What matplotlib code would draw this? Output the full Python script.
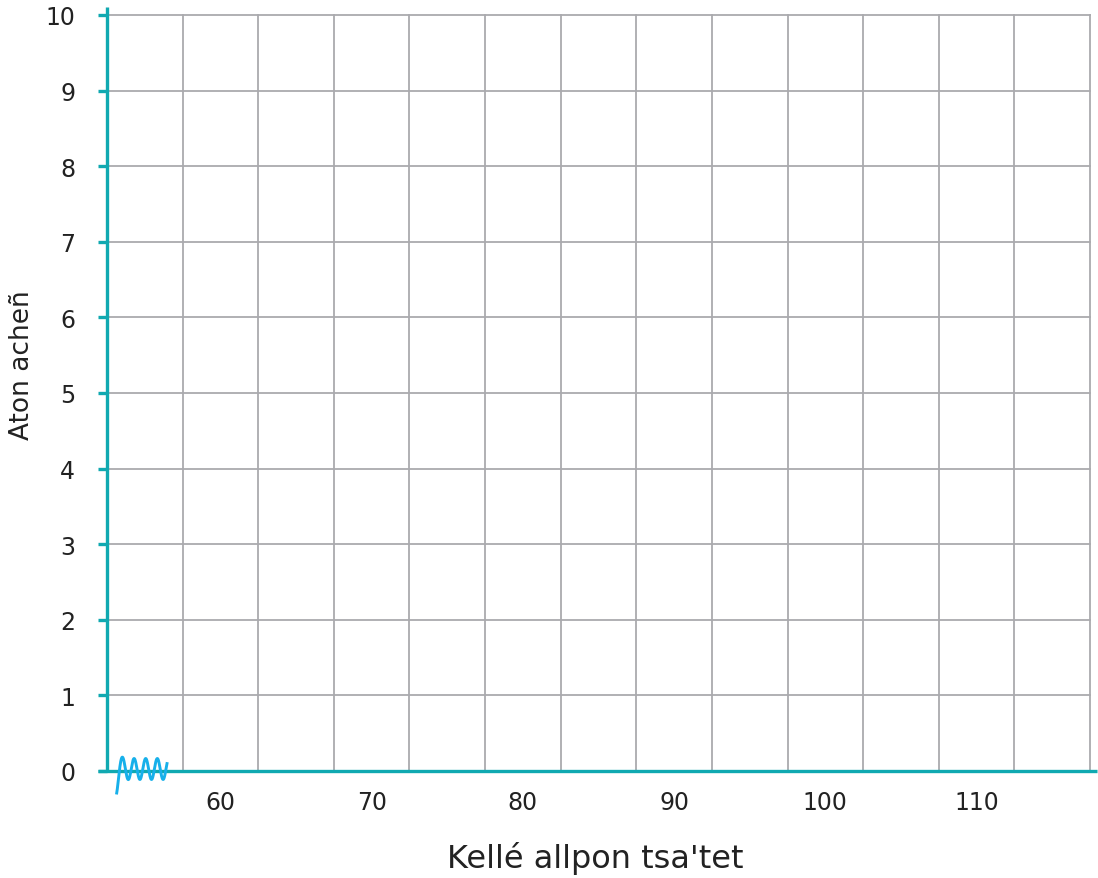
import numpy as np
import matplotlib
matplotlib.use("Agg")
import matplotlib.pyplot as plt

# Axis settings
x_ticks = [60, 70, 80, 90, 100, 110]
x_tick_labels = ["60", "70", "80", "90", "100", "110"]
x_grid = [57.5, 62.5, 67.5, 72.5, 77.5, 82.5, 87.5, 92.5, 97.5, 102.5, 107.5, 112.5, 117.5]
y_ticks = [0, 1, 2, 3, 4, 5, 6, 7, 8, 9, 10]
x_label = "Kellé allpon tsa'tet"
y_label = "Aton acheñ"

teal = "#10a9b1"
grid_c = "#aaaaae"
squiggle_c = "#17b0ea"
text_c = "#222222"

plt.rcParams['font.family'] = ['DejaVu Sans']

W, H = 1098, 879
fig = plt.figure(figsize=(W / 100, H / 100), dpi=100)
ax = fig.add_axes([107 / W, 1 - 772 / H, (1090 - 107) / W, (772 - 16) / H])

x0, x1 = 52.5, 117.5
ax.set_xlim(x0, x1)
ax.set_ylim(0, 10)

for s in ax.spines.values():
    s.set_visible(False)

# Grid
for gx in x_grid:
    ax.plot([gx, gx], [0, 10], color=grid_c, lw=1.3, zorder=1, clip_on=False)
for gy in y_ticks[1:]:
    ax.plot([x0, x1], [gy, gy], color=grid_c, lw=1.3, zorder=1, clip_on=False)

# Axis lines
ax.plot([x0 - 0.6, x1 + 0.47], [0, 0], color=teal, lw=2.4, zorder=3, clip_on=False,
        solid_capstyle='butt')
ax.plot([x0, x0], [0, 10.1], color=teal, lw=2.4, zorder=3, clip_on=False,
        solid_capstyle='butt')

# Y tick marks
for gy in y_ticks:
    ax.plot([x0 - 0.6, x0], [gy, gy], color=teal, lw=2.4, zorder=3, clip_on=False,
            solid_capstyle='butt')

ax.set_xticks(x_ticks)
ax.set_xticklabels(x_tick_labels)
ax.set_yticks(y_ticks)
ax.tick_params(axis='x', length=0, pad=14, labelsize=17, labelcolor=text_c)
ax.tick_params(axis='y', length=0, pad=23, labelsize=17, labelcolor=text_c)

ax.set_xlabel(x_label, fontsize=23, color=text_c, va='center')
ax.xaxis.set_label_coords(0.4965, -0.1138)
ax.set_ylabel(y_label, fontsize=19, color=text_c, va='center')
ax.yaxis.set_label_coords(-0.0865, 0.538)

# Axis-break squiggle near the origin (built in pixel units, mapped to data units)
px_per_x = (1090 - 107) / (x1 - x0)
px_per_y = (772 - 16) / 10.0
t = np.linspace(0, 50.3, 600)
period = 11.6
amp = 10.5 + 13.5 * np.exp(-t / 2.5)
py = 770.0 + amp * np.cos(2 * np.pi * t / period)
px = 116.7 + t
sx = x0 + (px - 107) / px_per_x
sy = (772 - py) / px_per_y
ax.plot(sx, sy, color=squiggle_c, lw=2.1, zorder=4, clip_on=False)

fig.savefig("out.png", dpi=100)
